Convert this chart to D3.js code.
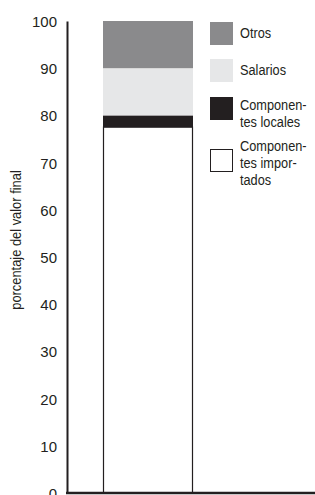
<!DOCTYPE html>
<html>
<head>
<meta charset="utf-8">
<script src="https://cdn.jsdelivr.net/npm/d3@7"></script>
<style>
  body { margin: 0; background: #fff; }
  svg { display: block; }
  text { font-family: "Liberation Sans", Arial, sans-serif; fill: #231f20; }
</style>
</head>
<body>
<div id="chart"></div>
<script>
// data (porcentaje del valor final)
const categories = ['producto'];
const seriesNames = ['Componentes importados', 'Componentes locales', 'Salarios', 'Otros'];
const seriesValues = [77.5, 2.5, 10, 10];
const seriesColors = ['#ffffff', '#231f20', '#e6e7e8', '#8a8a8c'];
const legendLabels = [
  ['Otros'],
  ['Salarios'],
  ['Componen-', 'tes locales'],
  ['Componen-', 'tes impor-', 'tados']
];
const yTicks = [0, 10, 20, 30, 40, 50, 60, 70, 80, 90, 100];

const width = 315;
const height = 495;
const margin = { top: 21, right: 0, bottom: 2, left: 67 };

const svg = d3.select('#chart')
  .append('svg')
    .attr('width', width)
    .attr('height', height);

const yScale = d3.scaleLinear()
  .domain([0, 100])
  .range([height - margin.bottom, margin.top]);

const xScale = d3.scaleBand()
  .domain(categories)
  .range([103, 193]);

// stack the series
const row = {};
seriesNames.forEach((n, i) => { row[n] = seriesValues[i]; });
const stack = d3.stack().keys(seriesNames)([row]);

const bars = svg.append('g');
stack.forEach((layer, i) => {
  const d = layer[0];
  bars.append('rect')
    .attr('x', xScale(categories[0]))
    .attr('width', xScale.bandwidth())
    .attr('y', yScale(d[1]))
    .attr('height', yScale(d[0]) - yScale(d[1]))
    .style('fill', seriesColors[i]);
});

// outline of the imported part (white)
const imp = stack[0][0];
bars.append('path')
  .attr('d', `M${xScale(categories[0]) + 0.5},${yScale(imp[0])}V${yScale(imp[1])}H${xScale(categories[0]) + xScale.bandwidth() - 0.5}V${yScale(imp[0])}`)
  .attr('fill', 'none')
  .attr('stroke', '#231f20')
  .attr('stroke-width', 1.2);

// y axis
const yAxis = svg.append('g')
  .attr('transform', `translate(${margin.left}, 0)`)
  .call(d3.axisLeft(yScale).tickValues(yTicks).tickSize(0).tickPadding(10));
yAxis.select('.domain').attr('stroke', '#231f20').attr('stroke-width', 2);
yAxis.selectAll('text').style('font-size', '15px').style('font-family', '"Liberation Sans", Arial, sans-serif').attr('dy', '0.36em');

// x axis line
svg.append('line')
  .attr('x1', margin.left - 1)
  .attr('x2', width)
  .attr('y1', yScale(0))
  .attr('y2', yScale(0))
  .attr('stroke', '#231f20')
  .attr('stroke-width', 2.5);

// y label
svg.append('text')
  .attr('transform', 'translate(21, 240) rotate(-90) scale(0.92, 1)')
  .attr('text-anchor', 'middle')
  .style('font-size', '14px')
  .text('porcentaje del valor final');

// legend
const legendY = [22, 59, 97, 149];
const legendColors = ['#8a8a8c', '#e6e7e8', '#231f20', '#ffffff'];
const legendBase = [[16], [16], [13, 30], [2, 19, 36]];
const legend = svg.append('g');
legendLabels.forEach((lines, i) => {
  const g = legend.append('g').attr('transform', `translate(210, ${legendY[i]})`);
  g.append('rect')
    .attr('x', i === 3 ? 0.5 : 0)
    .attr('y', i === 3 ? 0.5 : 0)
    .attr('width', i === 3 ? 22 : 23)
    .attr('height', i === 3 ? 22 : 23)
    .style('fill', legendColors[i])
    .style('stroke', i === 3 ? '#231f20' : 'none');
  lines.forEach((t, j) => {
    g.append('text')
      .attr('transform', `translate(30, ${legendBase[i][j]}) scale(0.85, 1)`)
      .style('font-size', '15px')
      .text(t);
  });
});
</script>
</body>
</html>
